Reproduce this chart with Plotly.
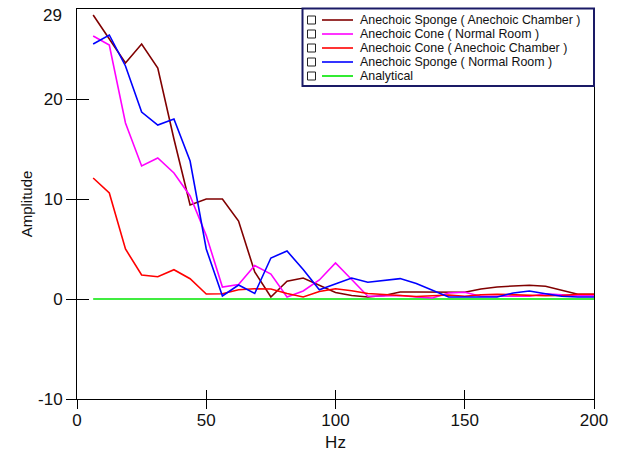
import plotly.graph_objects as go

# ---------------- data ----------------
freq_hz = [6.25, 12.5, 18.75, 25.0, 31.25, 37.5, 43.75, 50.0, 56.25, 62.5,
           68.75, 75.0, 81.25, 87.5, 93.75, 100.0, 106.25, 112.5, 118.75, 125.0,
           131.25, 137.5, 143.75, 150.0, 156.25, 162.5, 168.75, 175.0, 181.25, 187.5,
           193.75, 200.0]

sponge_chamber = [28.4, 26.0, 23.6, 25.5, 23.1, 16.0, 9.4, 10.0, 10.0, 7.8,
                  2.7, 0.2, 1.77, 2.1, 1.4, 0.65, 0.35, 0.2, 0.35, 0.7,
                  0.7, 0.7, 0.67, 0.67, 1.0, 1.2, 1.3, 1.37, 1.27, 0.87,
                  0.47, 0.47]

cone_room = [26.3, 25.4, 17.6, 13.3, 14.1, 12.6, 10.3, 6.35, 1.2, 1.45,
             3.35, 2.5, 0.2, 0.8, 1.9, 3.6, 1.95, 0.27, 0.3, 0.35,
             0.2, 0.1, 0.6, 0.67, 0.27, 0.27, 0.2, 0.27, 0.53, 0.4,
             0.33, 0.33]

cone_chamber = [12.1, 10.6, 5.0, 2.4, 2.23, 2.93, 2.03, 0.5, 0.53, 0.92,
                1.02, 1.0, 0.55, 0.2, 0.75, 1.02, 0.83, 0.55, 0.45, 0.35,
                0.25, 0.33, 0.4, 0.27, 0.43, 0.47, 0.4, 0.33, 0.33, 0.35,
                0.47, 0.47]

sponge_room = [25.5, 26.4, 23.3, 18.7, 17.4, 18.0, 13.8, 5.0, 0.3, 1.4,
               0.55, 4.1, 4.8, 2.95, 0.93, 1.5, 2.1, 1.68, 1.87, 2.04,
               1.55, 0.87, 0.2, 0.2, 0.2, 0.2, 0.6, 0.8, 0.53, 0.27,
               0.2, 0.2]

analytical = [0.0] * len(freq_hz)

series_names = ["Anechoic Sponge ( Anechoic Chamber )",
                "Anechoic Cone ( Normal Room )",
                "Anechoic Cone ( Anechoic Chamber )",
                "Anechoic Sponge ( Normal Room )",
                "Analytical"]
series_values = [sponge_chamber, cone_room, cone_chamber, sponge_room, analytical]
series_colors = ["#800000", "#ff00ff", "#ff0000", "#0000ff", "#00e600"]

x_ticks = [0, 50, 100, 150, 200]
x_ticktext = ["0", "50", "100", "150", "200"]
y_ticks = [-10, 0, 10, 20]
y_ticktext = ["-10", "0", "10", "20"]
x_range = [0, 200]
y_range = [-10, 29]

# ---------------- layout constants (pixels) ----------------
W, H = 620, 452
ML, MR, MT, MB = 77, 26, 9, 53
PW = W - ML - MR
PH = H - MT - MB
FONT = "Liberation Sans, Arial, sans-serif"


def px_x(px):
    return (px - ML) / PW


def px_y(py):
    return 1 - (py - MT) / PH


fig = go.Figure()

# draw order: analytical first so coloured curves sit over it
order = [4, 0, 1, 2, 3]
for i in order:
    fig.add_trace(go.Scatter(
        x=freq_hz, y=series_values[i], mode="lines", name=series_names[i],
        line=dict(color=series_colors[i], width=1.6), showlegend=False,
        hoverinfo="x+y+name"))

# ---------------- manual legend (Igor-style) ----------------
shapes = []
annotations = []
lx0, lx1, ly0, ly1 = 302.5, 594, 8.5, 86
shapes.append(dict(type="rect", xref="paper", yref="paper",
                   x0=px_x(lx0), x1=px_x(lx1), y0=px_y(ly1), y1=px_y(ly0),
                   line=dict(color="#1a1a66", width=2), fillcolor="white",
                   layer="above"))
row_y = [20, 34, 48, 62, 76]
for name, col, ry in zip(series_names, series_colors, row_y):
    shapes.append(dict(type="rect", xref="paper", yref="paper",
                       x0=px_x(307.5), x1=px_x(315.5),
                       y0=px_y(ry + 4), y1=px_y(ry - 4),
                       line=dict(color="#222222", width=1), fillcolor="white",
                       layer="above"))
    shapes.append(dict(type="line", xref="paper", yref="paper",
                       x0=px_x(322), x1=px_x(353), y0=px_y(ry), y1=px_y(ry),
                       line=dict(color=col, width=1.6), layer="above"))
    annotations.append(dict(xref="paper", yref="paper", x=px_x(358.5), y=px_y(ry),
                            xanchor="left", yanchor="middle", showarrow=False,
                            borderpad=0,
                            text=name, font=dict(family=FONT, size=12.4, color="#111111")))

# top "29" label (no tick mark in the original)
annotations.append(dict(xref="paper", yref="y", x=0, y=28.4, xanchor="right",
                        yanchor="middle", xshift=-13, showarrow=False, text="29",
                        font=dict(family=FONT, size=17, color="#111111")))

axis_common = dict(showgrid=False, zeroline=False, linecolor="black", linewidth=1,
                   tickcolor="black", tickwidth=1, automargin=False)
overlay_common = {k: v for k, v in axis_common.items() if k not in ("linecolor", "linewidth")}

fig.update_layout(
    width=W, height=H,
    margin=dict(l=ML, r=MR, t=MT, b=MB, pad=0),
    paper_bgcolor="white", plot_bgcolor="white",
    font=dict(family=FONT, size=17, color="#111111"),
    showlegend=False,
    xaxis=dict(range=x_range, tickvals=x_ticks, ticktext=x_ticktext,
               ticks="outside", ticklen=9,
               mirror=True, tickfont=dict(size=17), ticklabelstandoff=-3,
               title=dict(text="Hz", font=dict(size=17), standoff=12),
               **axis_common),
    yaxis=dict(range=y_range, tickvals=y_ticks, ticktext=y_ticktext,
               ticks="outside", ticklen=10,
               mirror=True, tickfont=dict(size=17),
               title=dict(text="Amplitude", font=dict(size=15), standoff=1),
               **axis_common),
    xaxis2=dict(overlaying="x", matches="x", anchor="y", range=x_range,
                tickvals=x_ticks, ticks="inside", ticklen=9, showticklabels=False,
                showline=False, **overlay_common),
    yaxis2=dict(overlaying="y", matches="y", anchor="x", range=y_range,
                tickvals=y_ticks, ticks="inside", ticklen=12, showticklabels=False,
                showline=False, **overlay_common),
    shapes=shapes,
    annotations=annotations,
)

# invisible trace to activate the inner-tick overlay axes
fig.add_trace(go.Scatter(x=[x_range[0]], y=[y_range[0]], xaxis="x2", yaxis="y2",
                         mode="markers", marker=dict(opacity=0), showlegend=False,
                         hoverinfo="skip"))

fig.write_html("out.html", config={"displayModeBar": False},
               post_script="document.body.style.margin='0';document.body.style.padding='0';")
